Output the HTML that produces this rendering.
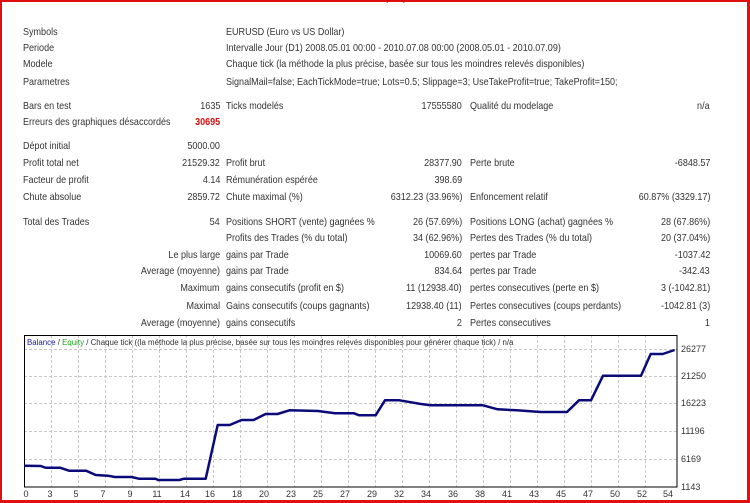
<!DOCTYPE html>
<html><head><meta charset="utf-8"><style>
*{margin:0;padding:0}
body{width:750px;height:503px;position:relative;background:#fff;overflow:hidden;font-family:"Liberation Sans",sans-serif;font-size:10.5px;color:#333}
.b{position:absolute;left:0;top:0;width:750px;height:503px;box-sizing:border-box;border:2px solid #e01010;border-right-width:3px;border-bottom-width:3px}
.t{position:absolute;white-space:nowrap;line-height:12px;transform:scaleX(0.86);transform-origin:left}
.r{position:absolute;white-space:nowrap;line-height:12px;text-align:right;transform:scaleX(0.86);transform-origin:right}
</style></head><body>
<div class="b"></div>
<div class="t" style="left:385px;top:-8px;color:#d00">(......)</div>
<div class="t" style="left:23px;top:26px">Symbols</div><div class="t" style="left:226px;top:26px">EURUSD (Euro vs US Dollar)</div>
<div class="t" style="left:23px;top:42px">Periode</div><div class="t" style="left:226px;top:42px">Intervalle Jour (D1) 2008.05.01 00:00 - 2010.07.08 00:00 (2008.05.01 - 2010.07.09)</div>
<div class="t" style="left:23px;top:58px">Modele</div><div class="t" style="left:226px;top:58px">Chaque tick (la méthode la plus précise, basée sur tous les moindres relevés disponibles)</div>
<div class="t" style="left:23px;top:76px">Parametres</div><div class="t" style="left:226px;top:76px">SignalMail=false; EachTickMode=true; Lots=0.5; Slippage=3; UseTakeProfit=true; TakeProfit=150;</div>
<div class="t" style="left:23px;top:100px">Bars en test</div><div class="r" style="right:530px;top:100px">1635</div><div class="t" style="left:226px;top:100px">Ticks modelés</div><div class="r" style="right:288px;top:100px">17555580</div><div class="t" style="left:470px;top:100px">Qualité du modelage</div><div class="r" style="right:40px;top:100px">n/a</div>
<div class="t" style="left:23px;top:116px">Erreurs des graphiques désaccordés</div><div class="r" style="right:530px;top:116px;color:#d01010;font-weight:bold">30695</div>
<div class="t" style="left:23px;top:140px">Dépot initial</div><div class="r" style="right:530px;top:140px">5000.00</div>
<div class="t" style="left:23px;top:157px">Profit total net</div><div class="r" style="right:530px;top:157px">21529.32</div><div class="t" style="left:226px;top:157px">Profit brut</div><div class="r" style="right:288px;top:157px">28377.90</div><div class="t" style="left:470px;top:157px">Perte brute</div><div class="r" style="right:40px;top:157px">-6848.57</div>
<div class="t" style="left:23px;top:174px">Facteur de profit</div><div class="r" style="right:530px;top:174px">4.14</div><div class="t" style="left:226px;top:174px">Rémunération espérée</div><div class="r" style="right:288px;top:174px">398.69</div>
<div class="t" style="left:23px;top:191px">Chute absolue</div><div class="r" style="right:530px;top:191px">2859.72</div><div class="t" style="left:226px;top:191px">Chute maximal (%)</div><div class="r" style="right:288px;top:191px">6312.23 (33.96%)</div><div class="t" style="left:470px;top:191px">Enfoncement relatif</div><div class="r" style="right:40px;top:191px">60.87% (3329.17)</div>
<div class="t" style="left:23px;top:216px">Total des Trades</div><div class="r" style="right:530px;top:216px">54</div><div class="t" style="left:226px;top:216px">Positions SHORT (vente) gagnées %</div><div class="r" style="right:288px;top:216px">26 (57.69%)</div><div class="t" style="left:470px;top:216px">Positions LONG (achat) gagnées %</div><div class="r" style="right:40px;top:216px">28 (67.86%)</div>
<div class="t" style="left:226px;top:232px">Profits des Trades (% du total)</div><div class="r" style="right:288px;top:232px">34 (62.96%)</div><div class="t" style="left:470px;top:232px">Pertes des Trades (% du total)</div><div class="r" style="right:40px;top:232px">20 (37.04%)</div>
<div class="r" style="right:530px;top:249px">Le plus large</div><div class="t" style="left:226px;top:249px">gains par Trade</div><div class="r" style="right:288px;top:249px">10069.60</div><div class="t" style="left:470px;top:249px">pertes par Trade</div><div class="r" style="right:40px;top:249px">-1037.42</div>
<div class="r" style="right:530px;top:265px">Average (moyenne)</div><div class="t" style="left:226px;top:265px">gains par Trade</div><div class="r" style="right:288px;top:265px">834.64</div><div class="t" style="left:470px;top:265px">pertes par Trade</div><div class="r" style="right:40px;top:265px">-342.43</div>
<div class="r" style="right:530px;top:282px">Maximum</div><div class="t" style="left:226px;top:282px">gains consecutifs (profit en $)</div><div class="r" style="right:288px;top:282px">11 (12938.40)</div><div class="t" style="left:470px;top:282px">pertes consecutives (perte en $)</div><div class="r" style="right:40px;top:282px">3 (-1042.81)</div>
<div class="r" style="right:530px;top:300px">Maximal</div><div class="t" style="left:226px;top:300px">Gains consecutifs (coups gagnants)</div><div class="r" style="right:288px;top:300px">12938.40 (11)</div><div class="t" style="left:470px;top:300px">Pertes consecutives (coups perdants)</div><div class="r" style="right:40px;top:300px">-1042.81 (3)</div>
<div class="r" style="right:530px;top:317px">Average (moyenne)</div><div class="t" style="left:226px;top:317px">gains consecutifs</div><div class="r" style="right:288px;top:317px">2</div><div class="t" style="left:470px;top:317px">Pertes consecutives</div><div class="r" style="right:40px;top:317px">1</div>
<svg style="position:absolute;left:0;top:0" width="750" height="503">
<g stroke="#c8c8c8" stroke-width="1" stroke-dasharray="3,2">
<line x1="24" y1="349.5" x2="677" y2="349.5"/><line x1="24" y1="376.5" x2="677" y2="376.5"/><line x1="24" y1="403.5" x2="677" y2="403.5"/><line x1="24" y1="431.5" x2="677" y2="431.5"/><line x1="24" y1="459.5" x2="677" y2="459.5"/>
<line x1="51.5" y1="335" x2="51.5" y2="487"/><line x1="78.5" y1="335" x2="78.5" y2="487"/><line x1="105.5" y1="335" x2="105.5" y2="487"/><line x1="132.5" y1="335" x2="132.5" y2="487"/><line x1="159.5" y1="335" x2="159.5" y2="487"/><line x1="186.5" y1="335" x2="186.5" y2="487"/><line x1="213.5" y1="335" x2="213.5" y2="487"/><line x1="240.5" y1="335" x2="240.5" y2="487"/><line x1="267.5" y1="335" x2="267.5" y2="487"/><line x1="294.5" y1="335" x2="294.5" y2="487"/><line x1="321.5" y1="335" x2="321.5" y2="487"/><line x1="348.5" y1="335" x2="348.5" y2="487"/><line x1="375.5" y1="335" x2="375.5" y2="487"/><line x1="402.5" y1="335" x2="402.5" y2="487"/><line x1="429.5" y1="335" x2="429.5" y2="487"/><line x1="456.5" y1="335" x2="456.5" y2="487"/><line x1="483.5" y1="335" x2="483.5" y2="487"/><line x1="510.5" y1="335" x2="510.5" y2="487"/><line x1="537.5" y1="335" x2="537.5" y2="487"/><line x1="564.5" y1="335" x2="564.5" y2="487"/><line x1="591.5" y1="335" x2="591.5" y2="487"/><line x1="618.5" y1="335" x2="618.5" y2="487"/><line x1="645.5" y1="335" x2="645.5" y2="487"/>
</g>
<rect x="24.5" y="335.5" width="652.5" height="151.5" fill="none" stroke="#000" stroke-width="1"/>
<polyline fill="none" stroke="#0a0a78" stroke-width="2.5" stroke-linejoin="round" points="24,465.7 40.7,466 45.5,467.7 60,467.7 69,470.7 86,470.7 95.7,475 107.7,475.7 115,477 131.6,477 138.8,478.7 155.5,478.7 158,480 179.4,480 184,478.7 205.7,478.7 217.7,425 229.7,425 241.6,420 253.6,420 265.6,414 277.5,414 289.5,410.3 318,411 335,413.3 354,413.3 359,415.3 375.6,415.3 385,400.3 399.5,400.3 421,404 430.6,405.3 483,405.3 497.6,409.3 516.7,410.3 540.7,412 567,412 579,400.3 591,400.3 603,375.7 641,375.7 650.7,354 662.7,354 674.6,350"/>
<g font-family="Liberation Sans,sans-serif" font-size="9" fill="#333">
<text x="27" y="345" font-size="7.9"><tspan fill="#1a1aa0">Balance</tspan> / <tspan fill="#20a020">Equity</tspan> / Chaque tick ((la méthode la plus précise, basée sur tous les moindres relevés disponibles pour générer chaque tick) / n/a</text>
<text x="681" y="352">26277</text><text x="681" y="379">21250</text><text x="681" y="406">16223</text><text x="681" y="434">11196</text><text x="681" y="462">6169</text><text x="681" y="490">1143</text>
<g text-anchor="middle">
<text x="26" y="497">0</text><text x="50" y="497">3</text><text x="76" y="497">5</text><text x="103" y="497">7</text><text x="130" y="497">9</text><text x="157" y="497">11</text><text x="185" y="497">14</text><text x="210" y="497">16</text><text x="237" y="497">18</text><text x="264" y="497">20</text><text x="291" y="497">23</text><text x="318" y="497">25</text><text x="345" y="497">27</text><text x="372" y="497">29</text><text x="399" y="497">32</text><text x="426" y="497">34</text><text x="453" y="497">36</text><text x="480" y="497">38</text><text x="507" y="497">41</text><text x="534" y="497">43</text><text x="561" y="497">45</text><text x="588" y="497">47</text><text x="615" y="497">50</text><text x="642" y="497">52</text><text x="668" y="497">54</text>
</g></g>
</svg>
</body></html>
